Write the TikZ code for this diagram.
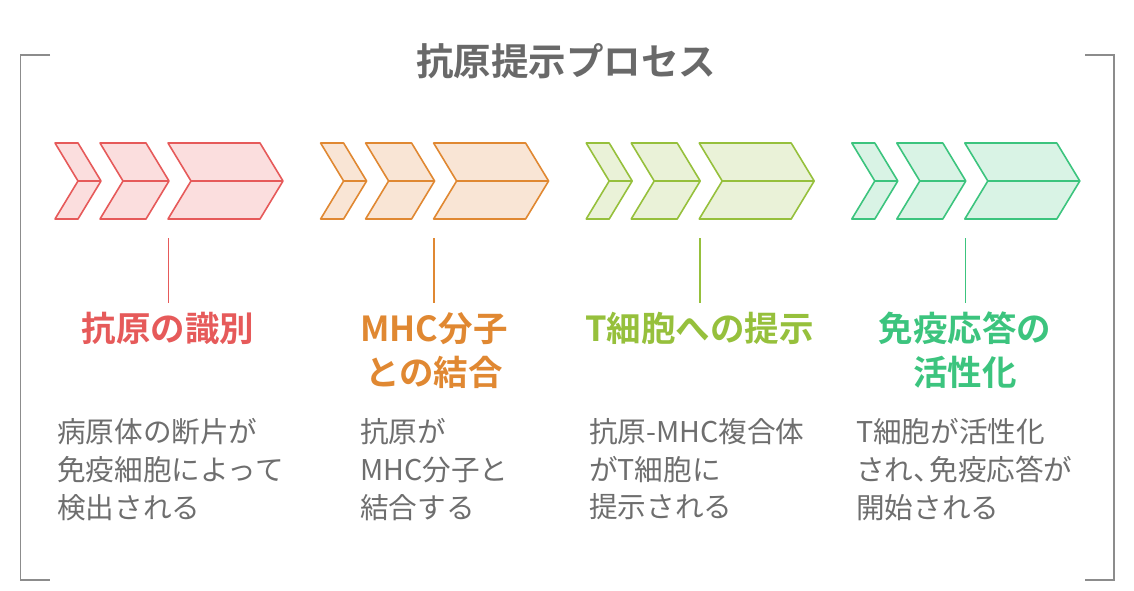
\documentclass[tikz,border=0pt]{standalone}
\usepackage{fontspec}
\setmainfont{Noto Sans CJK JP}[BoldFont={Noto Sans CJK JP Bold}]
\definecolor{cred}{HTML}{E65A5A}
\definecolor{fred}{HTML}{FBDEDE}
\definecolor{cora}{HTML}{E08832}
\definecolor{fora}{HTML}{F9E5D5}
\definecolor{cgrn}{HTML}{96C03C}
\definecolor{fgrn}{HTML}{EAF2D8}
\definecolor{ctea}{HTML}{3CC47E}
\definecolor{ftea}{HTML}{D9F3E5}
\definecolor{txtgray}{HTML}{6E6E6E}
\definecolor{framegray}{HTML}{8C8C8C}
\begin{document}
\begin{tikzpicture}[x=1pt,y=-1pt,
  chev/.style={line width=1.6pt, line join=round},
  midline/.style={line width=1.6pt},
  stem/.style={line width=1.6pt},
  frameline/.style={draw=framegray, line width=1.3pt},
  heading/.style={anchor=north, align=center, inner sep=0pt, font=\fontsize{34.5}{44}\selectfont\bfseries},
  desc/.style={anchor=north west, align=left, inner sep=0pt, text=txtgray, font=\fontsize{28.6}{37.8}\selectfont},
  ttl/.style={inner sep=0pt, text=txtgray!95!black, font=\fontsize{37.5}{40}\selectfont\bfseries}
]
\useasboundingbox (0,0) rectangle (1134,590);
% frame brackets
\draw[frameline] (50,55) -- (20.5,55) -- (20.5,580) -- (50,580);
\draw[frameline] (1085,55) -- (1114,55) -- (1114,580) -- (1085,580);
% title
\node[ttl] (title) at (566,61) {抗原提示プロセス};

% chevron groups
\foreach \dx/\sc/\fc/\n in {0/cred/fred/a, 265.6/cora/fora/b, 531.2/cgrn/fgrn/c, 796.8/ctea/ftea/d}{
  \begin{scope}[xshift=\dx]
    \foreach \l/\r in {55/78, 100/146, 168/260}{
      \pgfmathsetmacro{\lm}{\l+23}
      \pgfmathsetmacro{\rt}{\r+23}
      \draw[chev, draw=\sc, fill=\fc] (\l,143) -- (\r,143) -- (\rt,181) -- (\r,219) -- (\l,219) -- (\lm,181) -- cycle;
      \draw[midline, draw=\sc] (\lm,181) -- (\rt,181);
    }
    \coordinate (top\n) at (168.5,238);
    \coordinate (bot\n) at (168.5,303);
    \draw[stem, draw=\sc] (top\n) -- (bot\n);
  \end{scope}
}

% headings
\node[heading, text=cred] (h1) at (168,312) {抗原の識別};
\node[heading, text=cora] (h2) at (434,312) {MHC分子\\との結合};
\node[heading, text=cgrn] (h3) at (699.5,312) {T細胞への提示};
\node[heading, text=ctea] (h4) at (965,312) {免疫応答の\\活性化};

% descriptions
\node[desc] (d1) at (57,418) {病原体の断片が\\免疫細胞によって\\検出される};
\node[desc] (d2) at (360,418) {抗原が\\MHC分子と\\結合する};
\node[desc] (d3) at (589,418) {抗原-MHC複合体\\がT細胞に\\提示される};
\node[desc] (d4) at (856,418) {T細胞が活性化\\され、\kern-0.45em免疫応答が\\開始される};
\end{tikzpicture}
\end{document}
